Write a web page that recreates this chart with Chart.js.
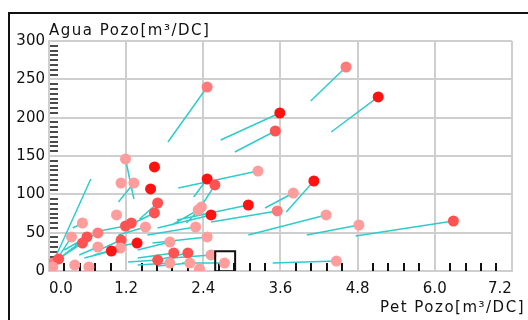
<!DOCTYPE html>
<html>
<head>
<meta charset="utf-8">
<script src="https://cdn.jsdelivr.net/npm/chart.js@4/dist/chart.umd.min.js"></script>
<style>
  html, body { margin: 0; padding: 0; background: #fff; }
  #wrap { position: relative; width: 528px; height: 320px; overflow: hidden; }
  #frame { position: absolute; left: 8px; top: 12px; width: 600px; height: 400px; border-top: 2px solid #111; border-left: 2px solid #111; }
  canvas { position: absolute; left: 0; top: 0; }
  .ttl { position: absolute; font: 15px "DejaVu Sans", sans-serif; line-height: 15px; letter-spacing: 1.5px; color: #111; white-space: nowrap; }
</style>
</head>
<body>
<div id="wrap">
  <div id="frame"></div>
  <canvas id="cv" width="528" height="320"></canvas>
  <div class="ttl" style="left:49px;top:23px">Agua Pozo[m³/DC]</div>
  <div class="ttl" style="right:3px;top:300px">Pet Pozo[m³/DC]</div>
</div>
<script>
// valores actuales por pozo
const pet  = [2.46, 4.62, 5.12, 3.59, 3.52, 1.19, 1.64, 1.12, 1.32, 1.58,
              2.46, 3.25, 2.58, 4.12, 3.80, 3.55, 3.10, 4.31, 4.82, 6.29,
              4.47, 2.52, 2.32, 2.37, 1.69, 1.64, 1.05, 0.52, 1.19, 1.28,
              1.50, 0.76, 0.35, 0.59, 0.52, 1.12, 1.11, 0.76, 0.97, 1.37,
              0.06, 0.15, 0.06, 0.40, 0.62, 2.28, 2.46, 1.88, 1.94, 2.16,
              2.52, 2.73, 1.88, 2.19, 2.34, 1.69, 0.00];
const agua = [240.0, 266.1, 227.0, 206.1, 182.6, 146.1, 135.7, 114.8, 114.8, 107.0,
              120.0, 130.4, 112.2, 117.4, 101.7, 78.3, 86.1, 73.1, 60.0, 65.2,
              13.0, 73.1, 79.6, 83.5, 88.7, 75.7, 73.1, 62.6, 58.7, 62.6,
              57.4, 49.6, 44.4, 44.4, 36.5, 40.4, 30.0, 31.3, 26.1, 36.5,
              10.4, 15.7, 5.2, 7.8, 5.2, 57.4, 44.4, 37.8, 23.5, 23.5,
              20.9, 10.4, 10.4, 10.4, 2.6, 14.3, 3.9];
// valores anteriores (null = sin trazo)
const petPrev  = [1.85, 4.07, 4.39, 2.67, 2.89, 1.32, 1.73, null, 1.08, null,
                  2.25, 2.01, 2.40, 3.69, 3.36, 2.52, 1.99, 3.10, 4.01, 4.77,
                  3.48, 1.69, 1.91, 2.14, 1.41, 1.35, null, 0.37, 0.70, null,
                  1.08, 0.40, 0.14, 0.24, 0.17, 0.78, 0.70, 0.47, 0.55, 0.93,
                  0.65, 0.47, null, null, null, 1.53, 1.61, 1.38, 1.38, 1.69,
                  1.91, 2.07, 1.38, 1.69, null, 1.23, null];
const aguaPrev = [168.3, 221.8, 181.3, 170.9, 155.2, 93.9, 134.4, null, 90.0, null,
                  96.5, 108.3, 88.7, 77.0, 82.2, 63.9, 66.5, 47.0, 47.0, 45.7,
                  10.4, 56.1, 60.0, 62.6, 67.8, 63.9, null, 56.1, 50.9, null,
                  47.0, 33.9, 17.0, 27.4, 17.0, 27.4, 20.9, 20.9, 17.0, 30.0,
                  120.0, 36.5, null, null, null, 47.0, 36.5, 27.4, 17.0, 14.3,
                  17.0, 10.4, 7.8, 6.5, null, 11.7, null];
// intensidad del punto (0 claro .. 3 rojo)
const nivel = [1, 1, 3, 3, 2, 0, 3, 0, 0, 3,
               3, 0, 2, 3, 0, 1, 3, 0, 0, 2,
               0, 3, 0, 0, 2, 2, 0, 0, 2, 2,
               0, 1, 0, 2, 2, 2, 0, 0, 3, 3,
               1, 2, 0, 0, 0, 0, 0, 0, 2, 2,
               0, 0, 0, 0, 0, 2, 0];
// marcador de selección
const cursorPet = [2.74];
const cursorAgua = [12.6];

const ticksX = [0, 1.2, 2.4, 3.6, 4.8, 6.0, 7.2];
const labelsX = ['0.0', '1.2', '2.4', '3.6', '4.8', '6.0', '7.2'];
const ticksY = [0, 50, 100, 150, 200, 250, 300];

const palette = ['#ff9c9c', '#ff7a7a', '#ff5252', '#ff1212'];
const tickFont = { family: 'DejaVu Sans', size: 15 };
const gridCol = '#cfcfcf';

const segs = [];
pet.forEach((v, i) => {
  if (petPrev[i] === null) return;
  segs.push({ x: v, y: agua[i] }, { x: petPrev[i], y: aguaPrev[i] }, { x: petPrev[i], y: null });
});

const minorTicks = {
  id: 'minorTicks',
  beforeDatasetsDraw(chart) {
    const { ctx, scales: { x, y }, chartArea: a } = chart;
    ctx.save();
    ctx.strokeStyle = '#111';
    ctx.lineWidth = 1.5;
    ctx.beginPath();
    for (let k = 1; k < 48; k++) {
      if (k % 8 === 0) continue;
      const py = Math.round(y.getPixelForValue(k * 6.25));
      ctx.moveTo(a.left + 1, py); ctx.lineTo(a.left + 9, py);
    }
    ctx.stroke();
    ctx.lineWidth = 2;
    ctx.beginPath();
    for (let k = 1; k < 30; k++) {
      if (k % 5 === 0) continue;
      const px = Math.round(x.getPixelForValue(k * 0.24));
      ctx.moveTo(px, a.bottom - 8); ctx.lineTo(px, a.bottom);
    }
    ctx.stroke();
    ctx.restore();
  }
};

new Chart(document.getElementById('cv'), {
  type: 'scatter',
  data: {
    datasets: [
      { label: 'cursor', data: cursorPet.map((v, i) => ({ x: v, y: cursorAgua[i] })), pointStyle: 'rect', pointRadius: 14.1, backgroundColor: 'rgba(0,0,0,0)', borderColor: '#111', borderWidth: 2, order: 0 },
      { label: 'pozos', data: pet.map((v, i) => ({ x: v, y: agua[i] })), pointRadius: 5.5, borderWidth: 0, backgroundColor: nivel.map(n => palette[n]), order: 1 },
      { label: 'trazo', data: segs, showLine: true, spanGaps: false, pointRadius: 0, borderColor: '#2fcccc', borderWidth: 1.5, order: 2 },
    ],
  },
  options: {
    responsive: false, devicePixelRatio: 1, animation: false,
    layout: { padding: { top: 41, right: 5, left: 0, bottom: 0 } },
    plugins: { legend: { display: false }, tooltip: { enabled: false } },
    scales: {
      x: {
        type: 'linear', min: 0, max: 7.2,
        afterBuildTicks: s => { s.ticks = ticksX.map(v => ({ value: v })); },
        afterFit: s => { s.height = 49; },
        ticks: { font: tickFont, color: '#111', padding: 9, align: 'inner', maxRotation: 0, callback: (v, i) => labelsX[i] },
        grid: { color: gridCol, lineWidth: 2, drawTicks: false },
        border: { color: gridCol, width: 2 },
      },
      y: {
        min: 0, max: 300,
        afterBuildTicks: s => { s.ticks = ticksY.map(v => ({ value: v })); },
        afterFit: s => { s.width = 49; },
        ticks: { font: tickFont, color: '#111', padding: 4 },
        grid: { color: gridCol, lineWidth: 2, drawTicks: false },
        border: { color: gridCol, width: 2 },
      },
    },
  },
  plugins: [minorTicks],
});
</script>
</body>
</html>
